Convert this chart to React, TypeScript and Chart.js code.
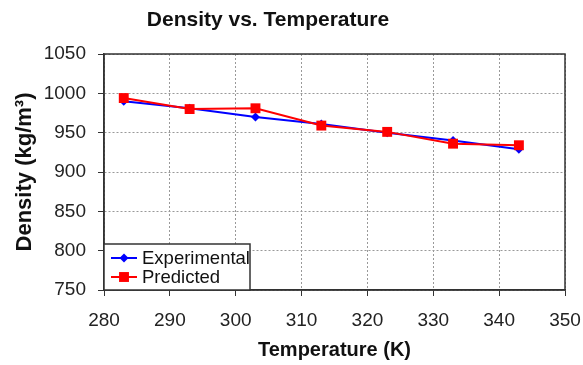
import React, { useEffect, useRef } from "react";
import { Chart, registerables } from "chart.js";

Chart.register(...registerables);

const temperatures = [283, 293, 303, 313, 323, 333, 343];
const experimental = [990, 981, 970, 961, 950, 940, 929];
const predicted = [994, 980, 981, 959, 951, 936, 934];
const xTicks = { min: 280, max: 350, step: 10 };
const yTicks = { min: 750, max: 1050, step: 50 };
const chartTitle = "Density vs. Temperature";

const FONT = "'Liberation Sans', Arial, sans-serif";

const frameAndLegend = {
  id: "frameAndLegend",
  beforeDatasetsDraw(chart: any) {
    const { ctx, chartArea: a } = chart;
    ctx.save();
    ctx.strokeStyle = "#333";
    ctx.lineWidth = 1.5;
    ctx.strokeRect(a.left, a.top, a.right - a.left, a.bottom - a.top);
    ctx.restore();
  },
  afterDatasetsDraw(chart: any) {
    const { ctx, chartArea: a } = chart;
    ctx.save();
    ctx.fillStyle = "#111";
    ctx.font = `bold 21px ${FONT}`;
    ctx.textAlign = "center";
    ctx.textBaseline = "middle";
    ctx.fillText(chartTitle, 268, 20);
    ctx.restore();

    const w = 146;
    const h = 46;
    const x = a.left;
    const y = a.bottom - h;
    ctx.save();
    ctx.fillStyle = "#fff";
    ctx.fillRect(x, y, w, h);
    ctx.strokeStyle = "#333";
    ctx.lineWidth = 1.5;
    ctx.strokeRect(x, y, w, h);
    [0, 1].forEach((di, i) => {
      const ds = chart.data.datasets[di];
      const cy = y + 14 + i * 19;
      ctx.strokeStyle = ds.borderColor;
      ctx.lineWidth = 2;
      ctx.beginPath();
      ctx.moveTo(x + 7, cy);
      ctx.lineTo(x + 33, cy);
      ctx.stroke();
      const r = ds.pointRadius;
      ctx.fillStyle = ds.pointBackgroundColor;
      ctx.beginPath();
      if (ds.pointStyle === "rectRot") {
        ctx.moveTo(x + 20 - r, cy);
        ctx.lineTo(x + 20, cy - r);
        ctx.lineTo(x + 20 + r, cy);
        ctx.lineTo(x + 20, cy + r);
      } else {
        const s = r * Math.SQRT1_2;
        ctx.rect(x + 20 - s, cy - s, 2 * s, 2 * s);
      }
      ctx.closePath();
      ctx.fill();
      ctx.fillStyle = "#111";
      ctx.font = `18.5px ${FONT}`;
      ctx.textBaseline = "middle";
      ctx.textAlign = "left";
      ctx.fillText(ds.label, x + 38, cy + 1);
    });
    ctx.restore();
  },
};

export default function App() {
  const ref = useRef<HTMLCanvasElement | null>(null);

  useEffect(() => {
    if (!ref.current) return;
    const chart = new Chart(ref.current, {
      type: "line",
      data: {
        datasets: [
          {
            label: "Experimental",
            data: temperatures.map((t, i) => ({ x: t, y: experimental[i] })),
            borderColor: "#0000ff",
            backgroundColor: "#0000ff",
            pointBackgroundColor: "#0000ff",
            pointBorderColor: "#0000ff",
            pointStyle: "rectRot",
            pointRadius: 4.5,
            pointBorderWidth: 0,
            borderWidth: 2,
            order: 1,
          },
          {
            label: "Predicted",
            data: temperatures.map((t, i) => ({ x: t, y: predicted[i] })),
            borderColor: "#ff0000",
            backgroundColor: "#ff0000",
            pointBackgroundColor: "#ff0000",
            pointBorderColor: "#ff0000",
            pointStyle: "rect",
            pointRadius: 7,
            pointBorderWidth: 0,
            borderWidth: 2,
            order: 0,
          },
        ],
      },
      options: {
        responsive: false,
        animation: false,
        layout: { padding: { left: 0, right: 18, top: 54, bottom: 0 } },
        plugins: {
          legend: { display: false },
          tooltip: { enabled: false },
          title: { display: false },
        },
        scales: {
          x: {
            type: "linear",
            min: xTicks.min,
            max: xTicks.max,
            ticks: {
              stepSize: xTicks.step,
              color: "#222",
              padding: 13,
              font: { family: FONT, size: 19 },
              callback: (v: any) => String(v),
            },
            grid: {
              color: "#999",
              lineWidth: 1,
              tickLength: 6,
              tickColor: "#333",
              tickBorderDash: [],
            },
            border: { display: true, color: "#333", width: 1.5, dash: [2, 2] },
            title: {
              display: true,
              text: "Temperature (K)",
              color: "#111",
              font: { family: FONT, size: 20, weight: "bold" },
              padding: { top: 0, bottom: 3 },
            },
            afterFit(scale: any) {
              scale.height = 75;
              scale.paddingLeft = 0;
              scale.paddingRight = 0;
            },
          },
          y: {
            min: yTicks.min,
            max: yTicks.max,
            ticks: {
              stepSize: yTicks.step,
              color: "#222",
              padding: 12,
              font: { family: FONT, size: 19 },
              callback: (v: any) => String(v),
            },
            grid: {
              color: "#999",
              lineWidth: 1,
              tickLength: 6,
              tickColor: "#333",
              tickBorderDash: [],
            },
            border: { display: true, color: "#333", width: 1.5, dash: [2, 2] },
            title: {
              display: true,
              text: "Density (kg/m³)",
              color: "#111",
              font: { family: FONT, size: 22, weight: "bold" },
              padding: { top: 12, bottom: 0 },
            },
            afterFit(scale: any) {
              scale.width = 104;
              scale.paddingTop = 0;
              scale.paddingBottom = 0;
            },
          },
        },
      },
      plugins: [frameAndLegend],
    } as any);
    return () => chart.destroy();
  }, []);

  return (
    <div style={{ position: "absolute", left: 0, top: 0, width: 583, height: 365, background: "#fff" }}>
      <canvas ref={ref} width={583} height={365} style={{ display: "block" }} />
    </div>
  );
}
